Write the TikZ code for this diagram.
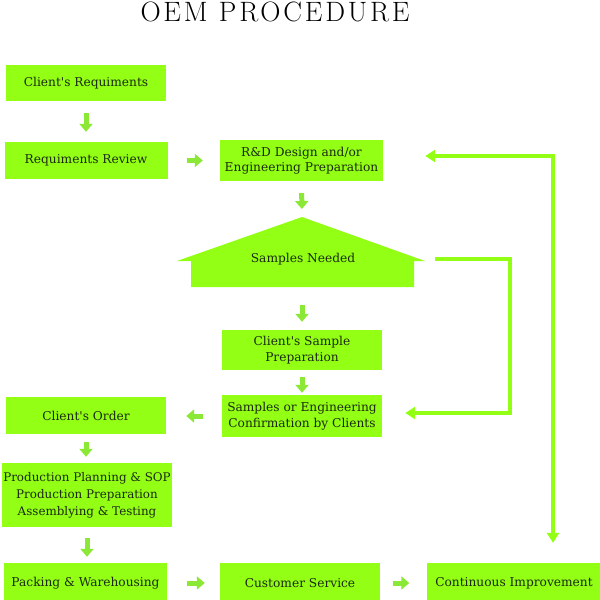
\documentclass[tikz,border=0pt]{standalone}
\usepackage{fontspec}
\newfontfamily\boxfont{DejaVu Serif}
\newfontfamily\titlefont[LetterSpace=10]{Latin Modern Roman}
\usetikzlibrary{arrows.meta}
\definecolor{boxgreen}{RGB}{146,255,20}
\definecolor{arrgreen}{RGB}{140,232,55}
\definecolor{inkgreen}{RGB}{28,42,18}

\tikzset{
  box/.style={fill=boxgreen, text=inkgreen, align=center, inner sep=2pt,
              font=\boxfont\fontsize{12.2}{15.5}\selectfont},
  flowarr/.style={draw=arrgreen, line width=5pt, -{Triangle[width=13pt,length=8pt]}},
  backline/.style={draw=boxgreen, line width=4pt, line cap=rect},
  backtip/.tip={Triangle[width=12pt,length=10pt]}
}

\begin{document}
\begin{tikzpicture}[x=1pt,y=-1pt]
    \useasboundingbox (0,0) rectangle (600,600);

    % title
    \node[anchor=base, inner sep=0pt, font=\titlefont\fontsize{28}{32}\selectfont] (title) at (275,21) {OEM PROCEDURE};

    % left column
    \node[box, minimum width=160pt, minimum height=36pt] (creq)   at (86,83)    {Client's Requiments};
    \node[box, minimum width=163pt, minimum height=37pt] (rrev)   at (86,160.5) {Requiments Review};
    \node[box, minimum width=160pt, minimum height=37pt] (corder) at (86,415.5) {Client's Order};
    \node[box, minimum width=170pt, minimum height=64pt, inner xsep=0pt,
          font=\boxfont\fontsize{11.9}{17}\selectfont]     (prod)   at (87,495)
          {Production Planning \& SOP\\Production Preparation\\Assemblying \& Testing};
    \node[box, minimum width=163pt, minimum height=40pt] (pack)   at (85.5,583) {Packing \& Warehousing};

    % middle column
    \node[box, minimum width=163pt, minimum height=41pt] (rnd)    at (301.5,160.5) {R\&D Design and/or\\Engineering Preparation};
    \fill[boxgreen] (177,261) coordinate (snL) -- (302,217) coordinate (snT) -- (425,261) coordinate (snR)
                    -- (414,261) -- (414,287) -- (191,287) -- (191,261) -- cycle;
    \node[text=inkgreen, font=\boxfont\fontsize{12.2}{15.5}\selectfont] (sneed) at (303,259) {Samples Needed};
    \coordinate (snB) at (302,287);
    \node[box, minimum width=160pt, minimum height=40pt] (cprep)  at (302,350)   {Client's Sample\\Preparation};
    \node[box, minimum width=160pt, minimum height=42pt] (sconf)  at (302,416)   {Samples or Engineering\\Confirmation by Clients};
    \node[box, minimum width=160pt, minimum height=40pt] (cserv)  at (300,583)   {Customer Service};

    % right column
    \node[box, minimum width=175pt, minimum height=40pt] (cimp)   at (514,583)   {Continuous Improvement};

    % short arrows
    \draw[flowarr, shorten <=12pt, shorten >=10pt] (creq.south) -- (creq.south |- rrev.north);
    \draw[flowarr, shorten <=19pt, shorten >=17pt] (rrev.east) -- (rnd.west |- rrev.east);
    \draw[flowarr, shorten <=12pt, shorten >=8pt]  (rnd.south) -- (snT);
    \draw[flowarr, shorten <=18pt, shorten >=8pt]  (snB) -- (cprep.north);
    \draw[flowarr, shorten <=7pt, shorten >=2pt]   (cprep.south) -- (sconf.north);
    \draw[flowarr, shorten <=19pt, shorten >=20pt] (sconf.west) -- (corder.east |- sconf.west);
    \draw[flowarr, shorten <=8pt, shorten >=6pt]   (corder.south) -- (corder.south |- prod.north);
    \draw[flowarr, shorten <=11pt, shorten >=6pt]  (prod.south) -- (prod.south |- pack.north);
    \draw[flowarr, shorten <=20pt, shorten >=15pt] (pack.east) -- (cserv.west |- pack.east);
    \draw[flowarr, shorten <=13pt, shorten >=17pt] (cserv.east) -- (cimp.west |- cserv.east);

    % feedback loops
    \coordinate (fbA) at (510,259);
    \coordinate (fbB) at (553,156);
    \draw[backline, -backtip] ([xshift=12pt]snR |- fbA) -- (fbA) |- ([xshift=23pt]sconf.east |- 0,413);
    \draw[backline, backtip-backtip] ([xshift=42pt]rnd.east |- fbB) -- (fbB) -- ([yshift=20pt]fbB |- cimp.north);
\end{tikzpicture}
\end{document}
